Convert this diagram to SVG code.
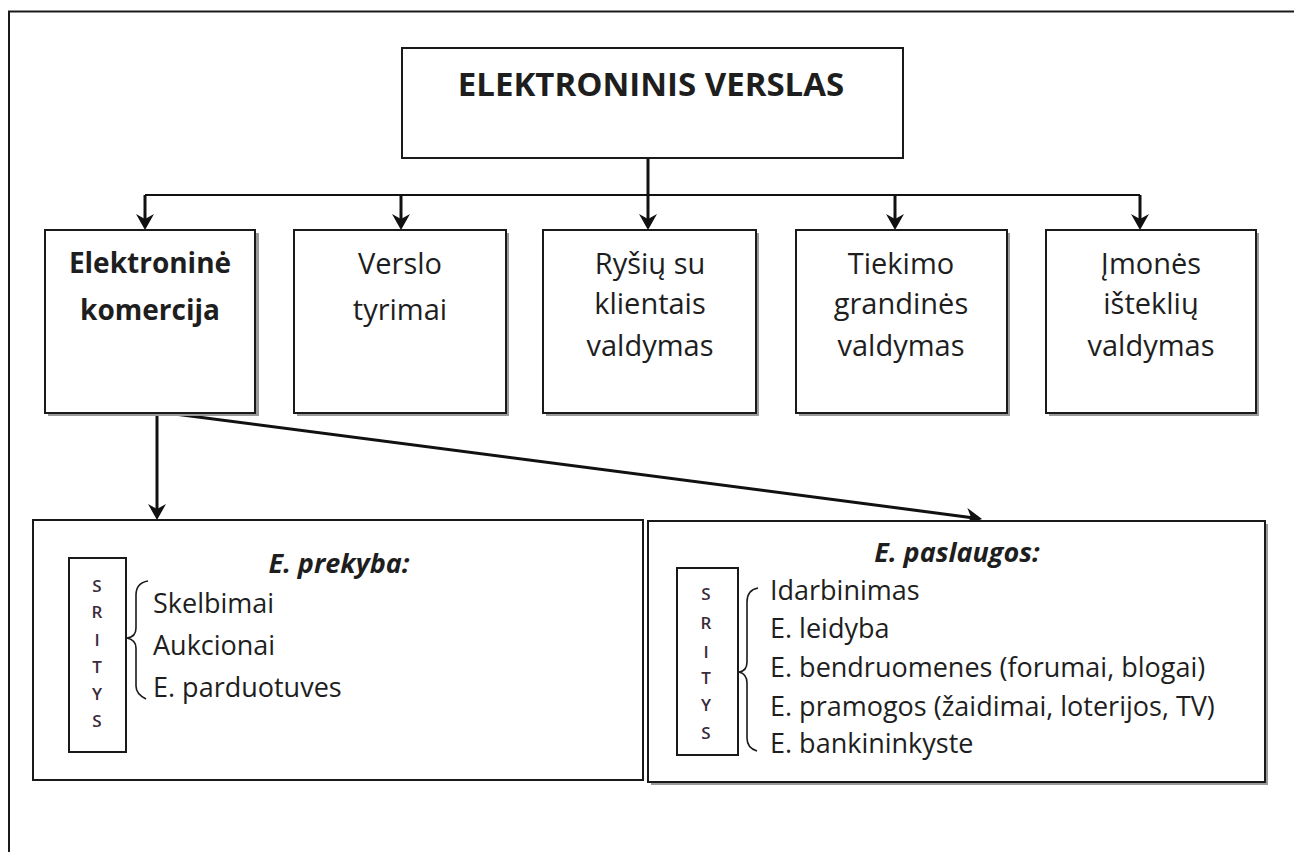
<svg xmlns="http://www.w3.org/2000/svg" width="1294" height="852" viewBox="0 0 1294 852">
<style>
text{font-family:"Open Sans","Noto Sans","Liberation Sans",sans-serif;fill:#1e1e1e}
.box{fill:#fff;stroke:#1a1a1a;stroke-width:2}
.shadow{fill:#9a9a9a}
.lbl{font-size:29px;text-anchor:middle}
.lblb{font-size:28px;font-weight:bold;text-anchor:middle}
.title{font-size:33px;font-weight:bold;text-anchor:middle}
.item{font-size:27px}
.head{font-size:27px;font-weight:bold;font-style:italic;text-anchor:middle}
.tag{font-size:17px;font-weight:600;text-anchor:middle;fill:#3a2a3a}
.wire{fill:none;stroke:#111;stroke-width:3}
.bus{fill:none;stroke:#111;stroke-width:2}
.frame{fill:none;stroke:#1a1a1a;stroke-width:2}
.brace{fill:none;stroke:#1a1a1a;stroke-width:1.6}
</style>
<defs>
<marker id="arrow" markerUnits="userSpaceOnUse" viewBox="-17 -10 18 20" markerWidth="18" markerHeight="20" refX="-8" refY="0" orient="auto">
<path d="M0,0 L-16,-9 L-11,0 L-16,9 Z" fill="#111"/>
</marker>
</defs>
<rect width="1294" height="852" fill="#fff"/>
<path class="frame" d="M9,852 V11.5 H1294"/>

<g id="connectors">
<path class="wire" d="M648,158 V222" marker-end="url(#arrow)"/>
<path class="bus" d="M145,195 H1140"/>
<path class="wire" d="M145,195 V222" marker-end="url(#arrow)"/>
<path class="wire" d="M401,195 V222" marker-end="url(#arrow)"/>
<path class="wire" d="M895,195 V222" marker-end="url(#arrow)"/>
<path class="wire" d="M1140,195 V222" marker-end="url(#arrow)"/>
<path class="wire" d="M157,413 V512" marker-end="url(#arrow)"/>
<path class="wire" d="M167,413 L974.1,517.9" marker-end="url(#arrow)"/>
</g>

<g id="elektroninis-verslas">
<rect class="box" x="402" y="48" width="501" height="110"/>
<text class="title" x="651" y="96">ELEKTRONINIS VERSLAS</text>
</g>

<g id="elektronine-komercija">
<rect class="shadow" x="48" y="233" width="211" height="183"/>
<rect class="box" x="45" y="230" width="210" height="183"/>
<text class="lblb" x="150" y="273">Elektroninė</text>
<text class="lblb" x="150" y="320">komercija</text>
</g>

<g id="verslo-tyrimai">
<rect class="shadow" x="297" y="233" width="212" height="183"/>
<rect class="box" x="294" y="230" width="212" height="183"/>
<text class="lbl" x="400" y="274">Verslo</text>
<text class="lbl" x="400" y="320">tyrimai</text>
</g>

<g id="rysiu-su-klientais">
<rect class="shadow" x="546" y="233" width="213" height="183"/>
<rect class="box" x="543" y="230" width="213" height="183"/>
<text class="lbl" x="650" y="274">Ryšių su</text>
<text class="lbl" x="650" y="314">klientais</text>
<text class="lbl" x="650" y="356">valdymas</text>
</g>

<g id="tiekimo-grandines">
<rect class="shadow" x="799" y="233" width="211" height="183"/>
<rect class="box" x="796" y="230" width="211" height="183"/>
<text class="lbl" x="901" y="274">Tiekimo</text>
<text class="lbl" x="901" y="314">grandinės</text>
<text class="lbl" x="901" y="356">valdymas</text>
</g>

<g id="imones-istekliu">
<rect class="shadow" x="1049" y="233" width="210" height="183"/>
<rect class="box" x="1046" y="230" width="210" height="183"/>
<text class="lbl" x="1151" y="274">Įmonės</text>
<text class="lbl" x="1151" y="314">išteklių</text>
<text class="lbl" x="1151" y="356">valdymas</text>
</g>

<g id="e-prekyba">
<rect class="box" x="33" y="520" width="610" height="260"/>
<text class="head" x="339" y="573">E. prekyba:</text>
<rect class="box" x="69" y="558" width="57" height="194"/>
<text class="tag" x="97" y="592">S</text>
<text class="tag" x="97" y="618">R</text>
<text class="tag" x="97" y="646">I</text>
<text class="tag" x="97" y="673">T</text>
<text class="tag" x="97" y="700">Y</text>
<text class="tag" x="97" y="727">S</text>
<path class="brace" d="M148,581 Q136,583 136,595 V628 Q136,637 127,638 Q136,640 136,648 V686 Q136,694 146,699"/>
<text class="item" x="153" y="613">Skelbimai</text>
<text class="item" x="153" y="655">Aukcionai</text>
<text class="item" x="153" y="697">E. parduotuves</text>
</g>

<g id="e-paslaugos">
<rect class="shadow" x="651" y="524" width="617" height="261"/>
<rect class="box" x="648" y="521" width="617" height="261"/>
<text class="head" x="957" y="562">E. paslaugos:</text>
<rect class="box" x="677" y="568" width="61" height="187"/>
<text class="tag" x="706" y="600">S</text>
<text class="tag" x="706" y="629">R</text>
<text class="tag" x="706" y="658">I</text>
<text class="tag" x="706" y="684">T</text>
<text class="tag" x="706" y="711">Y</text>
<text class="tag" x="706" y="739">S</text>
<path class="brace" d="M758,588 Q747,590 747,602 V662 Q747,671 739,672 Q747,674 747,683 V738 Q747,748 757,751"/>
<text class="item" x="770" y="600">Idarbinimas</text>
<text class="item" x="770" y="638">E. leidyba</text>
<text class="item" x="770" y="677">E. bendruomenes (forumai, blogai)</text>
<text class="item" x="770" y="716">E. pramogos (žaidimai, loterijos, TV)</text>
<text class="item" x="770" y="753">E. bankininkyste</text>
</g>
</svg>
